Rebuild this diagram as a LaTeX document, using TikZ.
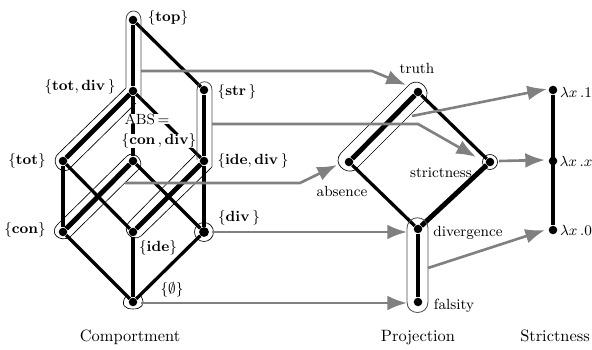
\documentclass[tikz,border=0pt]{standalone}
\usepackage{amsmath}
\usetikzlibrary{arrows.meta}
\tikzset{
  pnt/.style={circle,fill=black,inner sep=0pt,minimum size=5.2pt},
  lbl/.style={font=\small,inner sep=0pt},
  capt/.style={inner sep=0pt,anchor=base},
  med/.style={line width=2pt},
  hvy/.style={line width=3pt},
  outl/.style={line width=0.4pt},
  outg/.style={line width=0.5pt,black!70},
  gry/.style={line width=1.6pt,black!50,-{Latex[length=12pt,width=9pt]}}
}
\begin{document}
\begin{tikzpicture}[x=0.61pt,y=-0.61pt]
    \useasboundingbox (0,0) rectangle (592,350);
    % comportment lattice
    \node[pnt] (top) at (133,20) {};
    \node[pnt] (totdiv) at (133,91) {};
    \node[pnt] (str) at (204,90) {};
    \node[pnt] (tot) at (63,161) {};
    \node[pnt] (condiv) at (133,161) {};
    \node[pnt] (idediv) at (204,161) {};
    \node[pnt] (con) at (63,232) {};
    \node[pnt] (ide) at (133,232) {};
    \node[pnt,minimum size=6pt] (div) at (204,232) {};
    \node[pnt] (none) at (133,302) {};
    % projection
    \node[pnt] (truth) at (418,92) {};
    \node[pnt] (absent) at (349,162) {};
    \node[pnt] (strict) at (490,162) {};
    \node[pnt] (diverg) at (418,229) {};
    \node[pnt] (falsi) at (418,302) {};
    % strictness
    \node[pnt] (one) at (553,90) {};
    \node[pnt] (ident) at (553,161) {};
    \node[pnt] (zero) at (553,230) {};
    % lattice edges
    \draw[hvy] (top) -- (totdiv);
    \draw[med] (top) -- (str);
    \draw[hvy] (totdiv) -- (tot);
    \draw[hvy] (totdiv) -- (condiv);
    \draw[med] (totdiv) -- (idediv);
    \draw[hvy] (str) -- (idediv);
    \draw[med] (tot) -- (con);
    \draw[med] (tot) -- (ide);
    \draw[hvy] (condiv) -- (con);
    \draw[med] (condiv) -- (div);
    \draw[hvy] (idediv) -- (ide);
    \draw[med] (idediv) -- (div);
    \draw[med] (con) -- (none);
    \draw[med] (ide) -- (none);
    \draw[med] (div) -- (none);
    \draw[hvy] (truth) -- (absent);
    \draw[med] (truth) -- (strict);
    \draw[med] (absent) -- (diverg);
    \draw[hvy] (strict) -- (diverg);
    \draw[hvy] (diverg) -- (falsi);
    \draw[hvy] (one) -- (zero);
    % outlines of the classes
    \draw[outg] (126,88) -- (126,20) .. controls (126,8) and (141,8) .. (141,20) -- (141,100);
    \draw[outl] (126,88) -- (59,153) .. controls (50,160) and (58,174) .. (68,170) -- (136,103);
    \draw[outg] (197,160) -- (197,90) .. controls (197,79) and (212,79) .. (212,90) -- (212,167);
    \draw[outl] (127,156) .. controls (134,150) and (144,160) .. (140,168);
    \draw[outl] (127,156) -- (58,224) .. controls (48,233) and (60,243) .. (70,237) -- (140,168);
    \draw[outl] (197,153) -- (130,221) .. controls (120,230) and (132,243) .. (141,236) -- (212,167);
    \draw[outl] (204,232) circle (9.5);
    \draw[outl] (126,296) .. controls (120,305) and (125,309) .. (133,309)
       .. controls (141,309) and (146,305) .. (141,296);
    \draw[outl] (410,84) -- (341,153) .. controls (332,163) and (345,175) .. (355,170)
       -- (425,100) .. controls (432,90) and (420,77) .. (410,84);
    \draw[outl] (490,162) circle (7.5);
    \draw[outg] (407,229) .. controls (407,214) and (428,214) .. (428,229) -- (428,302)
       .. controls (428,316) and (407,316) .. (407,302) -- cycle;
    % arrows
    \coordinate (a1) at (141,71);
    \coordinate (a1b) at (372,71);
    \coordinate (a1e) at (406,85);
    \coordinate (a2) at (212,124);
    \coordinate (a2b) at (418,124);
    \coordinate (a2e) at (476,157);
    \coordinate (a3) at (125,183);
    \coordinate (a3b) at (300,183);
    \coordinate (a3e) at (337,165);
    \coordinate (a4) at (212,232);
    \coordinate (a4e) at (407,232);
    \coordinate (a5) at (141,303);
    \coordinate (a5e) at (407,303);
    \coordinate (a6) at (412,116);
    \coordinate (a6e) at (547,89);
    \coordinate (a7) at (499,161);
    \coordinate (a7e) at (545,160);
    \coordinate (a8) at (428,268);
    \coordinate (a8e) at (545,230);
    \draw[gry] (a1) -- (a1b) -- (a1e);
    \draw[gry] (a2) -- (a2b) -- (a2e);
    \draw[gry] (a3) -- (a3b) -- (a3e);
    \draw[gry] (a4) -- (a4e);
    \draw[gry] (a5) -- (a5e);
    \draw[gry] (a6) -- (a6e);
    \draw[gry] (a7) -- (a7e);
    \draw[gry] (a8) -- (a8e);
    % labels
    \node[lbl] (ltop) at (168,18) {$\{\mathbf{top}\}$};
    \node[lbl] (ltotdiv) at (80,87) {$\{\mathbf{tot},\mathbf{div}\,\}$};
    \node[lbl] (lstr) at (237,92) {$\{\mathbf{str}\,\}$};
    \node[lbl] (ltot) at (27,161) {$\{\mathbf{tot}\}$};
    \node[lbl] (lidediv) at (253,161) {$\{\mathbf{ide},\mathbf{div}\,\}$};
    \node[lbl] (lcon) at (25,230) {$\{\mathbf{con}\}$};
    \node[lbl] (lide) at (158,248) {$\{\mathbf{ide}\}$};
    \node[lbl] (ldiv) at (239,218) {$\{\mathbf{div}\,\}$};
    \node[lbl] (lnone) at (172,290) {$\{\emptyset\}$};
    \node[lbl,fill=white] (labs) at (147,119) {ABS\,=};
    \node[lbl,fill=white] (lcondiv) at (159,141) {$\{\mathbf{con}\,,\mathbf{div}\}$};
    \node[lbl] (ltruth) at (417,68) {truth};
    \node[lbl] (labsent) at (342,191) {absence};
    \node[lbl] (lstrict) at (441,173) {strictness};
    \node[lbl] (ldiverg) at (468,233) {divergence};
    \node[lbl] (lfalsi) at (454,306) {falsity};
    \node[lbl] (lone) at (576,92) {$\lambda x\,.1$};
    \node[lbl] (lident) at (576,161) {$\lambda x\,.x$};
    \node[lbl] (lzero) at (576,230) {$\lambda x\,.0$};
    \node[capt] (comport) at (130,342) {Comportment};
    \node[capt] (project) at (418,342) {Projection};
    \node[capt] (strictn) at (555,342) {Strictness};
\end{tikzpicture}
\end{document}
